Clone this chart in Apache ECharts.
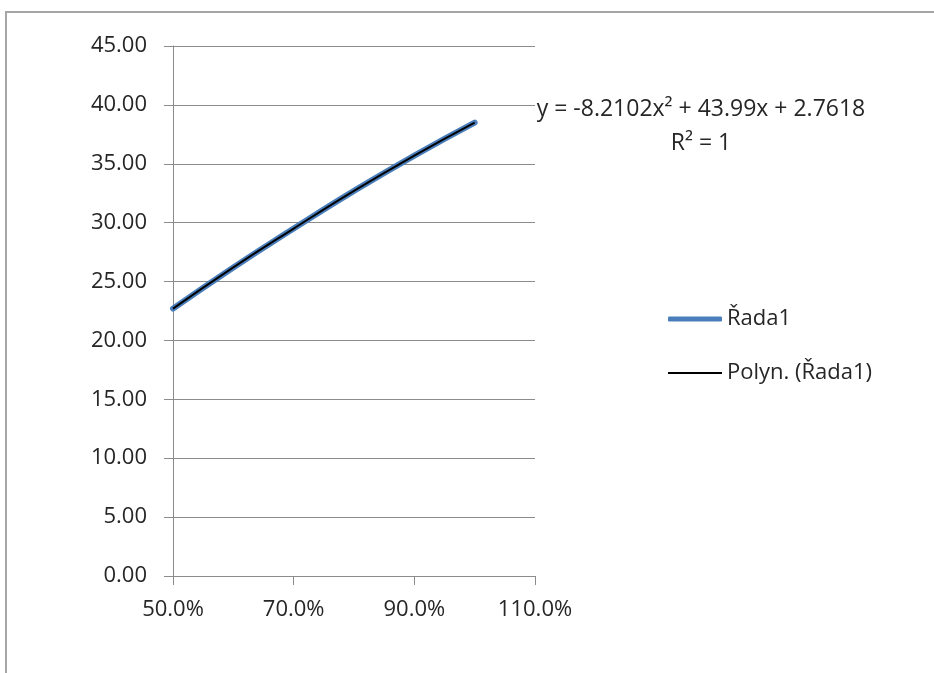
<!DOCTYPE html>
<html>
<head>
<meta charset="utf-8">
<script src="https://cdn.jsdelivr.net/npm/echarts@6/dist/echarts.min.js"></script>
<style>
  html, body { margin: 0; padding: 0; background: #fff; }
  #chart { width: 934px; height: 673px; }
</style>
</head>
<body>
<div id="chart"></div>
<script>
// Load share (%) and measured output
const xPercent = [50, 60, 70, 80, 90, 100];
const seriesValues = [22.7, 26.2, 29.5, 32.7, 35.7, 38.5];
const seriesName = 'Řada1';
const trendName = 'Polyn. (Řada1)';
const trendEquation = 'y = -8.2102x² + 43.99x + 2.7618';
const trendR2 = 'R² = 1';

const FONT = 'Open Sans';
const TEXT_COLOR = '#262626';
const GRID_COLOR = '#8c8c8c';
const BLUE = '#4a7ebb';

const points = xPercent.map((x, i) => [x, seriesValues[i]]);

const chart = echarts.init(document.getElementById('chart'), null, { renderer: 'canvas' });

const legendText = { fontFamily: FONT, fontSize: 22, color: TEXT_COLOR };

chart.setOption({
  animation: false,
  backgroundColor: '#ffffff',
  textStyle: { fontFamily: FONT },
  grid: { left: 173, right: 399, top: 46, bottom: 97, containLabel: false },
  xAxis: {
    type: 'value',
    min: 50,
    max: 110,
    interval: 20,
    axisLine: { show: true, onZero: false, lineStyle: { color: GRID_COLOR, width: 1 } },
    axisTick: { show: true, inside: false, length: 9, lineStyle: { color: GRID_COLOR } },
    splitLine: { show: false },
    axisLabel: {
      margin: 23,
      fontFamily: FONT,
      fontSize: 22,
      color: TEXT_COLOR,
      formatter: v => v.toFixed(1) + '%'
    }
  },
  yAxis: {
    type: 'value',
    min: 0,
    max: 45,
    interval: 5,
    axisLine: { show: true, lineStyle: { color: GRID_COLOR, width: 1 } },
    axisTick: { show: true, inside: false, length: 9, lineStyle: { color: GRID_COLOR } },
    splitLine: { show: true, lineStyle: { color: GRID_COLOR, width: 1 } },
    axisLabel: {
      margin: 26,
      fontFamily: FONT,
      fontSize: 22,
      color: TEXT_COLOR,
      formatter: v => v.toFixed(2)
    }
  },
  legend: [
    {
      left: 668,
      top: 308,
      padding: 0,
      itemWidth: 54,
      itemHeight: 5,
      textStyle: legendText,
      data: [{ name: seriesName, icon: 'roundRect', itemStyle: { color: BLUE } }]
    },
    {
      left: 668,
      top: 362,
      padding: 0,
      itemWidth: 54,
      itemHeight: 2,
      textStyle: legendText,
      data: [{ name: trendName, icon: 'rect', itemStyle: { color: '#000000' } }]
    }
  ],
  series: [
    {
      name: seriesName,
      type: 'line',
      data: points,
      smooth: true,
      symbol: 'none',
      lineStyle: { color: BLUE, width: 6, cap: 'round' },
      itemStyle: { color: BLUE },
      z: 2
    },
    {
      name: trendName,
      type: 'line',
      data: points,
      smooth: true,
      symbol: 'none',
      lineStyle: { color: '#000000', width: 2 },
      itemStyle: { color: '#000000' },
      z: 3
    }
  ],
  graphic: [
    {
      type: 'rect',
      shape: { x: 6, y: 12, width: 1000, height: 1000 },
      style: { fill: 'none', stroke: '#a6a6a6', lineWidth: 2 },
      silent: true
    },
    {
      type: 'text',
      x: 701,
      y: 92,
      style: {
        text: trendEquation + '\n' + trendR2,
        fontFamily: FONT,
        fontSize: 23,
        lineHeight: 34,
        fill: TEXT_COLOR,
        align: 'center'
      },
      silent: true
    }
  ]
});
</script>
</body>
</html>
